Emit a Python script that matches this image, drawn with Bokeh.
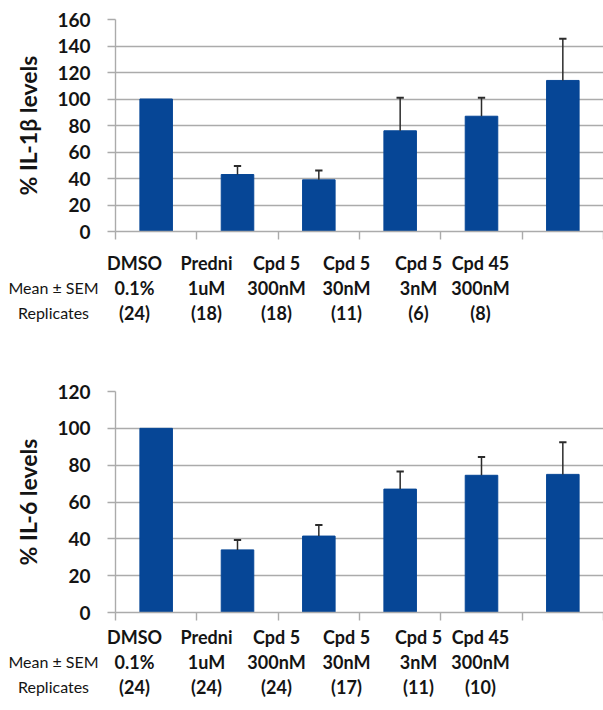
from bokeh.plotting import figure
from bokeh.models import Range1d, FixedTicker, ColumnDataSource
from bokeh.core.properties import value
from bokeh.embed import file_html
from bokeh.resources import INLINE

# ---------------- data ----------------
names = ["DMSO", "Predni", "Cpd 5", "Cpd 5", "Cpd 5", "Cpd 45"]
doses = ["0.1%", "1uM", "300nM", "30nM", "3nM", "300nM"]
row_titles = ["Mean \u00b1 SEM", "Replicates"]

il1b_mean = [100, 43, 39, 76, 87, 114]
il1b_sem = [0, 6.5, 7, 25, 14, 31.5]
il1b_reps = [24, 18, 18, 11, 6, 8]

il6_mean = [100, 34, 41.5, 67, 74.5, 75]
il6_sem = [0, 5.3, 6, 9.5, 10, 17.5]
il6_reps = [24, 24, 24, 17, 11, 10]

il1b_ticks = [0, 20, 40, 60, 80, 100, 120, 140, 160]
il6_ticks = [0, 20, 40, 60, 80, 100, 120]

# ---------------- layout constants (pixels) ----------------
W = 603
FRAME_LEFT = 115
FONT = "Lato"
BAR_COLOR = "#064696"
GRID = "#ababab"
TEXT = "#141414"
ERR = "#2b2b2b"
COL_X = [134, 206, 276, 346, 418, 480]
ROW_LABEL_X = 53


def bar_panel(means, sems, ticks, ylabel, height, top, bottom):
    n = len(means)
    centers = [i + 0.5 for i in range(n)]
    bars = ColumnDataSource(dict(x=centers, top=means))
    ex = [c for c, s in zip(centers, sems) if s > 0]
    em = [m for m, s in zip(means, sems) if s > 0]
    et = [m + s for m, s in zip(means, sems) if s > 0]
    errs = ColumnDataSource(dict(x=ex, top=em, etop=et,
                                 x0=[c - 0.045 for c in ex],
                                 x1=[c + 0.045 for c in ex]))
    p = figure(width=W, height=height, output_backend="svg", toolbar_location=None,
               x_range=Range1d(0, n), y_range=Range1d(ticks[0], ticks[-1]),
               min_border_left=FRAME_LEFT, min_border_right=0, min_border_top=top,
               min_border_bottom=bottom, outline_line_color=None)
    p.vbar(x="x", top="top", bottom=0, width=0.4, source=bars,
           fill_color=BAR_COLOR, line_color=BAR_COLOR)
    p.segment(x0="x", y0="top", x1="x", y1="etop", source=errs,
              line_color=ERR, line_width=1.5)
    p.segment(x0="x0", y0="etop", x1="x1", y1="etop", source=errs,
              line_color=ERR, line_width=2)

    p.xaxis.ticker = FixedTicker(ticks=list(range(n + 1)))
    p.xaxis.major_label_overrides = {i: "" for i in range(n + 1)}
    p.xaxis.major_label_text_font_size = "1px"
    p.xaxis.major_label_standoff = 0
    p.xaxis.major_tick_in = 0
    p.xaxis.major_tick_out = 8
    p.xaxis.minor_tick_line_color = None
    p.xaxis.axis_line_color = GRID
    p.xaxis.major_tick_line_color = GRID
    p.xaxis.axis_line_width = 1.4
    p.xaxis.major_tick_line_width = 1.4
    p.xgrid.grid_line_color = None

    p.yaxis.ticker = FixedTicker(ticks=ticks)
    p.yaxis.major_tick_in = 0
    p.yaxis.major_tick_out = 8
    p.yaxis.minor_tick_line_color = None
    p.yaxis.axis_line_color = GRID
    p.yaxis.major_tick_line_color = GRID
    p.yaxis.axis_line_width = 1.4
    p.yaxis.major_tick_line_width = 1.4
    p.yaxis.major_label_standoff = 17
    p.yaxis.major_label_text_font = FONT
    p.yaxis.major_label_text_font_style = "bold"
    p.yaxis.major_label_text_font_size = "19px"
    p.yaxis.major_label_text_color = TEXT
    p.yaxis.axis_label = ylabel
    p.yaxis.axis_label_text_font = FONT
    p.yaxis.axis_label_text_font_style = "bold"
    p.yaxis.axis_label_text_font_size = "23px"
    p.yaxis.axis_label_text_color = TEXT
    p.yaxis.axis_label_standoff = 12
    p.ygrid.grid_line_color = GRID
    p.ygrid.grid_line_width = 1.4
    return p


def table_panel(reps, height, rows_y):
    t = figure(width=W, height=height, output_backend="svg", toolbar_location=None,
               x_range=Range1d(0, W), y_range=Range1d(height, 0),
               x_axis_location=None, y_axis_location=None,
               min_border=0, min_border_left=0, min_border_right=0,
               min_border_top=0, min_border_bottom=0, outline_line_color=None)
    t.xgrid.grid_line_color = None
    t.ygrid.grid_line_color = None
    rows = [names, doses, ["(%d)" % r for r in reps]]
    for ry, texts in zip(rows_y, rows):
        t.text(x=COL_X, y=[ry] * len(texts), text=texts,
               text_font=value(FONT), text_font_style="bold",
               text_font_size="18px", text_align="center",
               text_baseline="middle", text_color=TEXT)
    t.text(x=[ROW_LABEL_X] * 2, y=rows_y[1:], text=row_titles,
           text_font=value(FONT), text_font_size="16px", text_align="center",
           text_baseline="middle", text_color=TEXT)
    return t


p1 = bar_panel(il1b_mean, il1b_sem, il1b_ticks, "% IL-1\u03b2 levels", 243, 19, 12)
t1 = table_panel(il1b_reps, 132, [19, 44, 69])
p2 = bar_panel(il6_mean, il6_sem, il6_ticks, "% IL-6 levels", 249, 16, 12)
t2 = table_panel(il6_reps, 84, [12, 37, 62])

open("out.html", "w").write(file_html([p1, t1, p2, t2], INLINE))
